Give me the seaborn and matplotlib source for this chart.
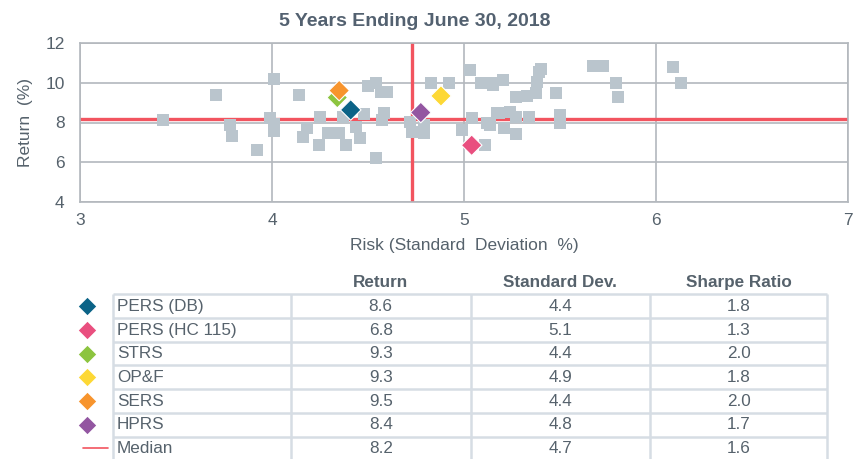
import matplotlib
matplotlib.use("Agg")
import matplotlib.pyplot as plt
import seaborn as sns
import pandas as pd

# ---------------- data ----------------
universe_risk = [3.43, 3.71, 3.78, 3.79, 3.92, 4.01, 3.99, 4.01, 4.01, 4.14,
                 4.18, 4.16, 4.25, 4.245, 4.29, 4.35, 4.385, 4.46, 4.44, 4.48,
                 4.37, 4.50, 4.54, 4.57, 4.60, 4.585, 4.575, 4.54, 4.72, 4.73,
                 4.79, 4.79, 4.83, 4.92, 5.03, 5.04, 4.99, 5.11, 5.12, 5.09,
                 5.14, 5.15, 5.205, 5.17, 5.24, 5.21, 5.27, 5.27, 5.27, 5.33,
                 5.375, 5.38, 5.39, 5.40, 5.34, 5.48, 5.50, 5.50, 5.67, 5.725,
                 5.79, 5.80, 6.09, 6.13, 5.18, 5.135]
universe_return = [8.13, 9.38, 7.88, 7.34, 6.62, 10.20, 8.24, 7.90, 7.55, 9.38,
                   7.71, 7.29, 8.29, 6.87, 7.46, 7.49, 6.87, 7.24, 7.79, 8.41,
                   8.29, 9.85, 9.97, 9.51, 9.55, 8.46, 8.13, 6.20, 8.04, 7.54,
                   7.88, 7.46, 10.00, 9.97, 10.63, 8.21, 7.62, 6.87, 7.96, 9.97,
                   9.97, 9.88, 10.13, 8.49, 8.54, 7.71, 7.42, 8.29, 9.29, 9.34,
                   9.46, 10.05, 10.55, 10.67, 8.29, 9.50, 8.38, 7.96, 10.83, 10.83,
                   9.97, 9.29, 10.80, 9.97, 8.46, 7.88]

fund_names = ["PERS (DB)", "PERS (HC 115)", "STRS", "OP&F", "SERS", "HPRS"]
fund_risk = [4.41, 5.04, 4.34, 4.88, 4.35, 4.775]
fund_return = [8.63, 6.86, 9.25, 9.33, 9.60, 8.50]
fund_colors = ["#0b6387", "#e94f7f", "#8cc43f", "#fdd835", "#f7942d", "#9356a1"]

median_risk = 4.73
median_return = 8.19

table_labels = fund_names + ["Median"]
table_headers = ["Return", "Standard Dev.", "Sharpe Ratio"]
table_return = ["8.6", "6.8", "9.3", "9.3", "9.5", "8.4", "8.2"]
table_std = ["4.4", "5.1", "4.4", "4.9", "4.4", "4.8", "4.7"]
table_sharpe = ["1.8", "1.3", "2.0", "1.8", "2.0", "1.7", "1.6"]

x_ticks = [3, 4, 5, 6, 7]
y_ticks = [4, 6, 8, 10, 12]

# ---------------- style ----------------
sns.set_style("white")
plt.rcParams["font.family"] = ["Liberation Sans", "DejaVu Sans"]
TXT = "#56626c"
TITLE = "#536170"
GRID = "#b3b8bd"
MED = "#f2545f"
SQ = "#bac5cd"
TBL = "#d6dde4"

W, H = 854, 459
fig = plt.figure(figsize=(W / 100, H / 100), dpi=100)

# ---------------- scatter ----------------
ax = fig.add_axes([80 / W, 1 - 202.3 / H, 768 / W, 159.6 / H])
ax.set_xlim(x_ticks[0], x_ticks[-1])
ax.set_ylim(y_ticks[0], y_ticks[-1])
ax.set_xticks(x_ticks)
ax.set_yticks(y_ticks)
ax.grid(True, color=GRID, linewidth=1.2, zorder=0)
ax.set_axisbelow(True)
for s in ax.spines.values():
    s.set_color(GRID)
    s.set_linewidth(1.2)
ax.tick_params(axis="both", colors=GRID, length=3, width=1.0, direction="out",
               labelcolor=TXT, labelsize=12.5)
ax.tick_params(axis="x", pad=5)
ax.tick_params(axis="y", pad=8)

ax.axhline(median_return, color=MED, linewidth=2.4, zorder=1)
ax.axvline(median_risk, color=MED, linewidth=2.4, zorder=1)

uni = pd.DataFrame({"risk": universe_risk, "ret": universe_return})
sns.scatterplot(data=uni, x="risk", y="ret", marker="s", s=78, color=SQ,
                linewidth=0, ax=ax, zorder=2)

funds = pd.DataFrame({"name": fund_names, "risk": fund_risk, "ret": fund_return})
sns.scatterplot(data=funds, x="risk", y="ret", hue="name",
                palette=dict(zip(fund_names, fund_colors)), marker="D", s=110,
                edgecolor="white", linewidth=0.8, legend=False, ax=ax, zorder=3)

ax.set_xlabel("Risk (Standard  Deviation  %)", color=TXT, fontsize=12.5, labelpad=7)
ax.set_ylabel("Return  (%)", color=TXT, fontsize=12.5, labelpad=9)
fig.text(415 / W, 1 - 21.7 / H, "5 Years Ending June 30, 2018", color=TITLE,
         fontsize=14, fontweight="bold", ha="center", va="center")

# ---------------- table ----------------
tax = fig.add_axes([0, 0, 1, 1], zorder=-1)
tax.set_xlim(0, W)
tax.set_ylim(H, 0)
tax.axis("off")

col_edges = [112.7, 290.7, 470.7, 650.0, 827.3]
row_top = 294.3
row_h = 23.7
n_rows = len(table_labels)

for i in range(n_rows + 1):
    y = row_top + i * row_h
    tax.plot([col_edges[0], col_edges[-1]], [y, y], color=TBL, linewidth=1.8,
             solid_capstyle="butt")
for x in col_edges:
    tax.plot([x, x], [row_top, row_top + n_rows * row_h], color=TBL,
             linewidth=1.8, solid_capstyle="butt")

centers = [(col_edges[k] + col_edges[k + 1]) / 2 for k in range(1, 4)]
for c, h in zip(centers, table_headers):
    tax.text(c, 287, h, ha="center", va="baseline", fontsize=12.3,
             fontweight="bold", color=TXT)

cols = [table_return, table_std, table_sharpe]
for i, lab in enumerate(table_labels):
    yc = row_top + (i + 0.5) * row_h
    yb = yc + 4.8
    tax.text(117, yb, lab, ha="left", va="baseline", fontsize=12.3, color=TXT)
    for c, vals in zip(centers, cols):
        tax.text(c, yb, vals[i], ha="center", va="baseline", fontsize=12.3,
                 color=TXT)
    if i < len(fund_colors):
        tax.scatter([86.7], [yc], marker="D", s=78, color=fund_colors[i],
                    linewidth=0)
    else:
        tax.plot([83, 108], [yc, yc], color=MED, linewidth=1.2)

fig.savefig("out.png", dpi=100)
